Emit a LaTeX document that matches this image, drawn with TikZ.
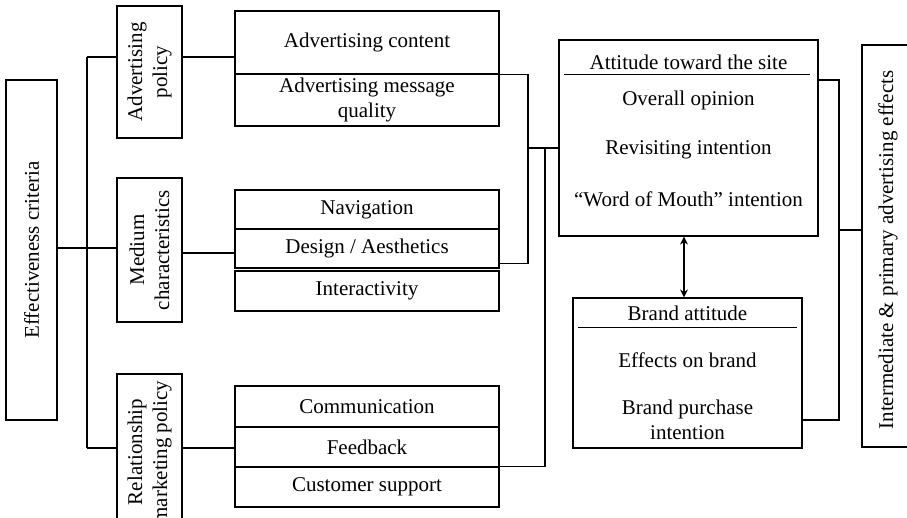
\documentclass[tikz,border=0pt]{standalone}
\usepackage{fontspec}
\setmainfont{Liberation Serif}
\usetikzlibrary{arrows.meta,calc}
\begin{document}
\begin{tikzpicture}[x=1pt,y=-1pt,
  ln/.style={line width=1.2pt},
  bx/.style={draw,line width=1.2pt,inner sep=0pt,align=center,font=\fontsize{21}{25}\selectfont},
  tx/.style={inner sep=0pt,align=center,font=\fontsize{21}{25}\selectfont},
  vt/.style={tx,rotate=90},
  arr/.style={line width=1.2pt,{Stealth[length=8pt,width=8pt]}-{Stealth[length=8pt,width=8pt]}}
]
\useasboundingbox (0,0) rectangle (907,517);
\clip (0,0) rectangle (907,517);

% left column
\node[bx,minimum width=51pt,minimum height=340pt] (eff) at (31.5,250) {};
\node[vt] (efft) at (eff.center) {Effectiveness criteria};

\node[bx,minimum width=65pt,minimum height=132pt] (advp) at (149.5,72) {};
\node[vt] (advpt) at (advp.center) {Advertising\\policy};
\node[bx,minimum width=65pt,minimum height=144pt] (medc) at (149.5,250) {};
\node[vt] (medct) at (medc.center) {Medium\\characteristics};
\node[bx,minimum width=65pt,minimum height=156pt] (relm) at (149.5,452) {};
\node[vt] (relmt) at (relm.center) {Relationship\\marketing policy};

% middle column
\node[bx,minimum width=264pt,minimum height=63pt] (c1) at (367,42.5) {Advertising content};
\node[bx,minimum width=264pt,minimum height=52pt] (c2) at (367,100) {Advertising message\\quality};
\node[bx,minimum width=264pt,minimum height=39pt] (nav) at (367,209.5) {Navigation};
\node[bx,minimum width=264pt,minimum height=39pt] (des) at (367,248.5) {Design / Aesthetics};
\node[bx,minimum width=264pt,minimum height=40pt] (int) at (367,291) {Interactivity};
\node[bx,minimum width=264pt,minimum height=41pt] (com) at (367,406.5) {Communication};
\node[bx,minimum width=264pt,minimum height=40pt] (fee) at (367,447) {Feedback};
\node[bx,minimum width=264pt,minimum height=40pt] (sup) at (367,487) {Customer support};

% attitude box
\node[bx,minimum width=259pt,minimum height=196pt] (att) at (688.5,138) {};
\node[tx] (att0) at (688.5,62) {Attitude toward the site};
\draw[ln] ($(att.north west)+(6,35)$) -- ($(att.north east)+(-9,35)$);
\node[tx] (att1) at (688.5,100) {Overall opinion};
\node[tx] (att2) at (688.5,150) {Revisiting intention};
\node[tx] (att3) at (688.5,199) {“Word of Mouth” intention};

% brand box
\node[bx,minimum width=229pt,minimum height=150pt] (br) at (687.5,373) {};
\node[tx] (br0) at (687.5,313) {Brand attitude};
\draw[ln] ($(br.north west)+(6,30)$) -- ($(br.north east)+(-6,30)$);
\node[tx] (br1) at (687.5,360) {Effects on brand};
\node[tx] (br2) at (687.5,420) {Brand purchase\\intention};

% right box
\node[bx,minimum width=53pt,minimum height=402pt] (im) at (888.5,246) {};
\node[vt] (imt) at (888,250) {Intermediate \& primary advertising effects};

% left connectors
\coordinate (ja) at (87,57);
\coordinate (jb) at (87,248);
\coordinate (jc) at (87,448);
\coordinate (jm) at (0,253);
\draw[ln] (ja) -- (jc);
\draw[ln] (eff.east |- jb) -- (medc.west |- jb);
\draw[ln] (ja) -- (advp.west |- ja);
\draw[ln] (jc) -- (relm.west |- jc);
\draw[ln] (advp.east |- ja) -- (c1.west |- ja);
\draw[ln] (medc.east |- jm) -- (des.west |- jm);
\draw[ln] (relm.east |- jc) -- (fee.west |- jc);

% middle connectors
\coordinate (kk) at (528,148);
\coordinate (kl) at (545,148);
\coordinate (dse) at ([yshift=5pt]des.south east);
\draw[ln] (c1.south east) -| (kk) |- (dse);
\draw[ln] (kk) -- (att.west |- kk);
\draw[ln] (kl) |- (sup.north east);

% arrow
\coordinate (ax) at (684,0);
\draw[arr] (att.south -| ax) -- (br.north -| ax);

% right connectors
\coordinate (rr) at (839,230);
\coordinate (ra) at (0,80);
\coordinate (rb) at (0,420);
\draw[ln] (att.east |- ra) -| (rr) |- (br.east |- rb);
\draw[ln] (rr) -- (im.west |- rr);
\end{tikzpicture}
\end{document}
